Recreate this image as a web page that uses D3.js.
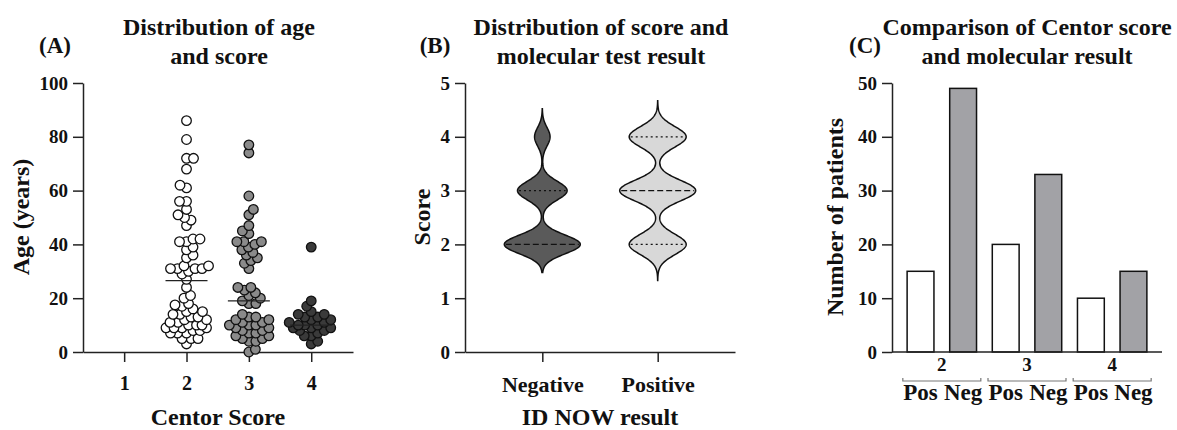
<!DOCTYPE html>
<html>
<head>
<meta charset="utf-8">
<script src="https://cdn.jsdelivr.net/npm/d3@7"></script>
<style>
  body { margin: 0; background: #fff; }
  text { font-family: "Liberation Serif", serif; font-weight: bold; fill: #111; }
</style>
</head>
<body>
<svg id="fig" width="1177" height="430"></svg>
<script>
// ages per Centor score (panel A)
var ageScore2 = [86, 79, 72, 72, 68, 62, 61, 56, 56, 53, 51, 50, 49, 47,
  42, 42, 41, 41, 39, 38, 36, 35, 32, 32, 31, 31, 31, 31, 30, 29, 27,
  24, 21, 20, 18, 17.5, 17, 16, 15, 15, 14, 14, 13, 13, 12, 12, 11, 11,
  10, 10, 10, 9, 9, 9, 9, 8, 8, 7, 7, 7, 5, 5, 5, 3];
var ageScore3 = [77, 74, 58, 53, 51, 47, 45, 44, 41, 41, 41, 40, 39, 38, 37,
  36, 35, 34, 33, 31, 24, 24, 23, 22, 21, 20, 19, 18, 18, 14, 13, 13, 12,
  12, 11, 11, 10, 10, 10, 9, 9, 8, 8, 7, 7, 6, 6, 5, 5, 4, 4, 1, 0];
var ageScore4 = [39, 19, 17, 15, 14, 14, 13, 13, 12, 12, 11, 11, 10, 10, 10,
  9, 9, 9, 8, 8, 7, 6, 6, 4, 3];
var ageMeans = [26.5, 19, 10];
var centorScores = [1, 2, 3, 4];
var ageTicks = [0, 20, 40, 60, 80, 100];

// score counts per ID NOW result (panel B)
var idNowResults = ['Negative', 'Positive'];
var scoreLevels = [2, 3, 4];
var negScoreCounts = [49, 32, 10];
var posScoreCounts = [15, 20, 15];
var scoreTicks = [0, 1, 2, 3, 4, 5];

// patients per score and result (panel C)
var barGroups = ['2', '3', '4'];
var barPos = [15, 20, 10];
var barNeg = [49, 33, 15];
var patientTicks = [0, 10, 20, 30, 40, 50];

var svg = d3.select('#fig');
var plotTop = 83, plotBottom = 352;

function styleAxis(g) {
  g.selectAll('path, line').attr('stroke', '#222').attr('stroke-width', 1.5);
  g.selectAll('text').attr('fill', '#111').style('font-family', '"Liberation Serif", serif')
    .style('font-weight', 'bold');
}

function titles(cx, lines, tag, tagX) {
  lines.forEach(function(t, i) {
    svg.append('text').attr('x', cx).attr('y', 35 + i * 29)
      .attr('text-anchor', 'middle').style('font-size', '24px').text(t);
  });
  svg.append('text').attr('x', tagX).attr('y', 53)
    .attr('text-anchor', 'middle').style('font-size', '23px').text(tag);
}

function yLabel(x, t) {
  svg.append('text').attr('transform', 'translate(' + x + ',217) rotate(-90)')
    .attr('text-anchor', 'middle').style('font-size', '24px').text(t);
}

/* ---------- (A) ---------- */
(function() {
  var x = d3.scaleLinear().domain([0.34, 4.67]).range([83, 353]);
  var y = d3.scaleLinear().domain([0, 100]).range([plotBottom, plotTop]);

  svg.append('g').attr('transform', 'translate(83,0)')
    .call(d3.axisLeft(y).tickValues(ageTicks).tickSize(10).tickPadding(5).tickSizeOuter(0))
    .call(styleAxis).selectAll('text').style('font-size', '19px');
  svg.append('g').attr('transform', 'translate(0,' + plotBottom + ')')
    .call(d3.axisBottom(x).tickValues(centorScores).tickFormat(d3.format('d'))
      .tickSize(10).tickPadding(14).tickSizeOuter(0))
    .call(styleAxis).selectAll('text').style('font-size', '20px');

  var groups = [
    { score: 2, ages: ageScore2, fill: '#ffffff' },
    { score: 3, ages: ageScore3, fill: '#8a8a8a' },
    { score: 4, ages: ageScore4, fill: '#3a3a3a' }
  ];
  var r = 4.8, minDist = 6.8, maxOff = 22;

  groups.forEach(function(g, gi) {
    var cx = x(g.score), placed = [];
    g.ages.slice().sort(d3.ascending).forEach(function(v, i) {
      var py = y(v), best = cx, bestGap = -1;
      for (var s = 0; s <= maxOff; s += 0.5) {
        var cands = (i % 2) ? [cx + s, cx - s] : [cx - s, cx + s];
        var found = false;
        cands.forEach(function(c) {
          if (found) return;
          var gap = d3.min(placed, function(p) { return Math.hypot(p[0] - c, p[1] - py); });
          if (gap === undefined) gap = Infinity;
          if (gap >= minDist) { best = c; found = true; }
          else if (gap > bestGap) { bestGap = gap; best = c; }
        });
        if (found) break;
      }
      placed.push([best, py]);
    });

    svg.append('g').selectAll('circle').data(placed).enter()
      .append('circle')
        .attr('cx', function(d) { return d[0]; })
        .attr('cy', function(d) { return d[1]; })
        .attr('r', r)
        .attr('fill', g.fill)
        .attr('stroke', '#111')
        .attr('stroke-width', 1.3);

    svg.append('line')
      .attr('x1', cx - 21).attr('x2', cx + 21)
      .attr('y1', y(ageMeans[gi])).attr('y2', y(ageMeans[gi]))
      .attr('stroke', '#222').attr('stroke-width', 1.3);
  });

  titles(219, ['Distribution of age', 'and score'], '(A)', 55);
  yLabel(29, 'Age (years)');
  svg.append('text').attr('x', 218).attr('y', 425).attr('text-anchor', 'middle')
    .style('font-size', '24px').text('Centor Score');
})();

/* ---------- (B) ---------- */
(function() {
  var x = d3.scalePoint().domain(idNowResults).range([465, 735]).padding(0.67);
  var y = d3.scaleLinear().domain([0, 5]).range([plotBottom, plotTop]);

  svg.append('g').attr('transform', 'translate(465,0)')
    .call(d3.axisLeft(y).tickValues(scoreTicks).tickFormat(d3.format('d'))
      .tickSize(10).tickPadding(5).tickSizeOuter(0))
    .call(styleAxis).selectAll('text').style('font-size', '19px');
  svg.append('g').attr('transform', 'translate(0,' + plotBottom + ')')
    .call(d3.axisBottom(x).tickSize(10).tickPadding(14).tickSizeOuter(0))
    .call(styleAxis).selectAll('text').style('font-size', '22px');

  var violins = [
    { name: 'Negative', counts: negScoreCounts, bw: 0.173, ext: 0.52, fill: '#5a5a5a' },
    { name: 'Positive', counts: posScoreCounts, bw: 0.19, ext: 0.67, fill: '#d8d8d8' }
  ];
  var halfMax = 38;

  violins.forEach(function(v) {
    var cx = x(v.name);
    function dens(s) {
      return d3.sum(scoreLevels, function(lv, i) {
        return v.counts[i] * Math.exp(-Math.pow(s - lv, 2) / (2 * v.bw * v.bw));
      });
    }
    var lo = d3.min(scoreLevels) - v.ext, hi = d3.max(scoreLevels) + v.ext;
    var pts = d3.range(lo, hi + 0.001, 0.01).map(function(s) { return [s, dens(s)]; });
    var maxD = d3.max(pts, function(p) { return p[1]; });
    var w = d3.scaleLinear().domain([0, maxD]).range([0, halfMax]);

    var area = d3.area()
      .y(function(p) { return y(p[0]); })
      .x0(function(p) { return cx - w(p[1]); })
      .x1(function(p) { return cx + w(p[1]); });
    svg.append('path').datum(pts).attr('d', area)
      .attr('fill', v.fill).attr('stroke', '#111').attr('stroke-width', 1.5);

    // quartile lines
    var expanded = [];
    scoreLevels.forEach(function(lv, i) {
      for (var k = 0; k < v.counts[i]; k++) expanded.push(lv);
    });
    var q1 = d3.quantile(expanded, 0.25), med = d3.quantile(expanded, 0.5),
        q3 = d3.quantile(expanded, 0.75);
    [[q1, '2,3'], [q3, '2,3'], [med, '6,3']].forEach(function(q) {
      var hw = w(dens(q[0])) - 1.5;
      svg.append('line')
        .attr('x1', cx - hw).attr('x2', cx + hw)
        .attr('y1', y(q[0])).attr('y2', y(q[0]))
        .attr('stroke', med === q[0] && q[1] === '2,3' ? 'none' : '#111')
        .attr('stroke-width', 1.3)
        .attr('stroke-dasharray', q[1]);
    });
  });

  titles(601, ['Distribution of score and', 'molecular test result'], '(B)', 435);
  yLabel(430, 'Score');
  svg.append('text').attr('x', 600).attr('y', 425).attr('text-anchor', 'middle')
    .style('font-size', '24px').text('ID NOW result');
})();

/* ---------- (C) ---------- */
(function() {
  var keys = [];
  barGroups.forEach(function(g) { keys.push(g + '-Pos', g + '-Neg'); });
  var x = d3.scaleBand().domain(keys).range([892, 1162])
    .paddingInner(0.37).paddingOuter(0.355);
  var y = d3.scaleLinear().domain([0, 50]).range([plotBottom, plotTop]);

  var bars = [];
  barGroups.forEach(function(g, i) {
    bars.push({ key: g + '-Pos', label: 'Pos', value: barPos[i], fill: '#ffffff' });
    bars.push({ key: g + '-Neg', label: 'Neg', value: barNeg[i], fill: '#a2a2a6' });
  });

  svg.append('g').selectAll('rect').data(bars).enter()
    .append('rect')
      .attr('x', function(d) { return x(d.key); })
      .attr('y', function(d) { return y(d.value); })
      .attr('width', x.bandwidth())
      .attr('height', function(d) { return y(0) - y(d.value); })
      .attr('fill', function(d) { return d.fill; })
      .attr('stroke', '#111')
      .attr('stroke-width', 1.5);

  svg.append('g').attr('transform', 'translate(892,0)')
    .call(d3.axisLeft(y).tickValues(patientTicks).tickSize(10).tickPadding(5).tickSizeOuter(0))
    .call(styleAxis).selectAll('text').style('font-size', '19px');
  svg.append('line').attr('x1', 892).attr('x2', 1162).attr('y1', plotBottom).attr('y2', plotBottom)
    .attr('stroke', '#222').attr('stroke-width', 1.5);

  barGroups.forEach(function(g) {
    var c = (x(g + '-Pos') + x(g + '-Neg') + x.bandwidth()) / 2;
    svg.append('text').attr('x', c).attr('y', 371).attr('text-anchor', 'middle')
      .style('font-size', '19px').text(g);
    svg.append('path')
      .attr('d', 'M' + (c - 39) + ',378V381H' + (c + 39) + 'V378')
      .attr('fill', 'none').attr('stroke', '#777').attr('stroke-width', 1.2);
  });

  svg.append('g').selectAll('text').data(bars).enter()
    .append('text')
      .attr('x', function(d) { return x(d.key) + x.bandwidth() / 2; })
      .attr('y', 400)
      .attr('text-anchor', 'middle')
      .style('font-size', '23px')
      .text(function(d) { return d.label; });

  titles(1027, ['Comparison of Centor score', 'and molecular result'], '(C)', 865);
  yLabel(843, 'Number of patients');
})();
</script>
</body>
</html>
